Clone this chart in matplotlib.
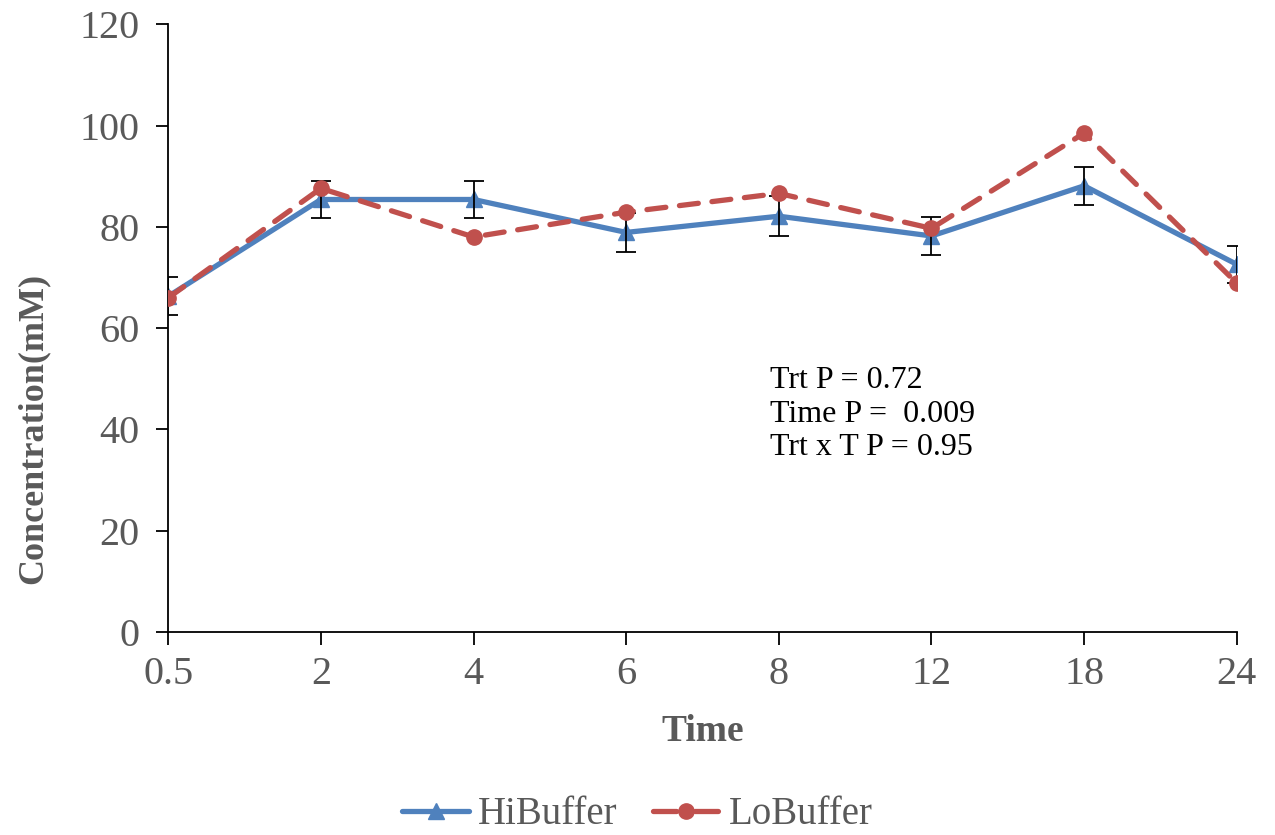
import numpy as np
import matplotlib.pyplot as plt
from matplotlib.lines import Line2D

# data
times = ['0.5', '2', '4', '6', '8', '12', '18', '24']
hi_buffer = [66.3, 85.4, 85.4, 78.9, 82.1, 78.2, 88.1, 72.6]
hi_err = [3.7, 3.7, 3.7, 3.9, 3.9, 3.7, 3.7, 3.6]
lo_buffer = [66.0, 87.6, 78.0, 82.9, 86.6, 79.7, 98.5, 68.9]

blue = '#4F81BD'
red = '#C0504D'
grey = '#595959'

plt.rcParams['font.family'] = ['Liberation Serif', 'DejaVu Serif']

fig = plt.figure(figsize=(12.75, 8.35), dpi=100)
ax = fig.add_axes([0.132, 0.243, 0.838, 0.728])

x = np.arange(len(times))
ax.plot(x, hi_buffer, '-', color=blue, lw=3.8, marker='^', ms=12, label='HiBuffer',
        solid_capstyle='round', zorder=2)
ax.errorbar(x, hi_buffer, yerr=hi_err, fmt='none', ecolor='black', elinewidth=1.3,
            capsize=7, capthick=1.3, zorder=3)
ax.plot(x, lo_buffer, '--', color=red, lw=3.8, dashes=(3.6, 2.6), dash_capstyle='round',
        marker='o', ms=11, label='LoBuffer', zorder=4)

ax.set_xlim(0, len(times) - 1)
ax.set_ylim(0, 120)
ax.set_yticks(range(0, 121, 20))
ax.set_xticks(x)
ax.set_xticklabels(times)

for s in ['top', 'right']:
    ax.spines[s].set_visible(False)
for s in ['left', 'bottom']:
    ax.spines[s].set_linewidth(1.3)
ax.tick_params(axis='both', labelsize=29, labelcolor=grey, length=9, width=1.3, direction='out')
ax.tick_params(axis='x', pad=8)
ax.tick_params(axis='y', pad=12)

ax.set_xlabel('Time', fontsize=27, fontweight='bold', color=grey, labelpad=15)
ax.set_ylabel('Concentration(mM)', fontsize=26, fontweight='bold', color=grey)
ax.yaxis.set_label_coords(-0.111, 0.335)

ax.text(3.94, 43.0, 'Trt P = 0.72\nTime P =  0.009\nTrt x T P = 0.95', fontsize=23,
        color='black', va='center', ha='left', linespacing=1.2)

# legend handles (dash - marker - dash like the original)
h_hi = Line2D([], [], color=blue, lw=3.8, marker='^', ms=12, solid_capstyle='round')
h_lo = Line2D([], [], color=red, lw=3.8, linestyle=(0, (4.4, 3.5)), dash_capstyle='round',
              marker='o', ms=11)
fig.legend([h_hi, h_lo], ['HiBuffer', 'LoBuffer'], loc='center', bbox_to_anchor=(0.5, 20 / 835),
           ncol=2, frameon=False, fontsize=28, labelcolor=grey, handlelength=1.7,
           handletextpad=0.25, columnspacing=0.9)

fig.savefig('out.png', dpi=100)
